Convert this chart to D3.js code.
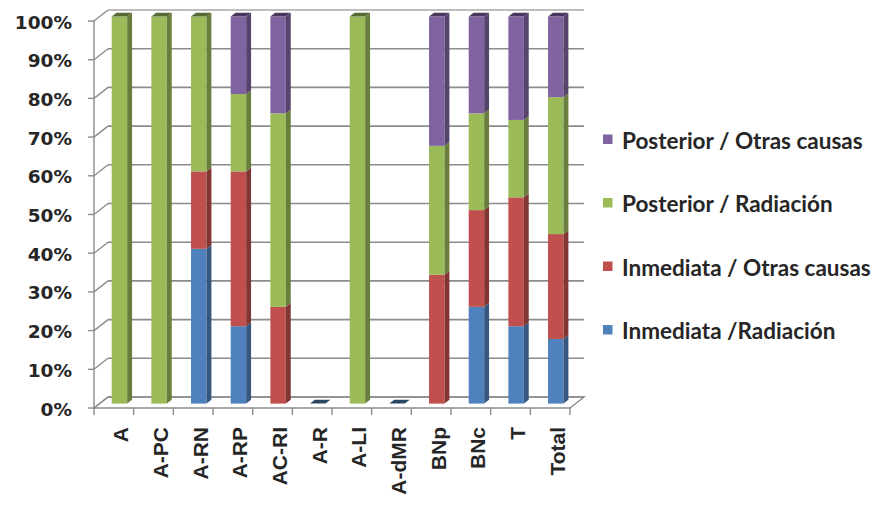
<!DOCTYPE html>
<html>
<head>
<meta charset="utf-8">
<script src="https://cdn.jsdelivr.net/npm/d3@7"></script>
<style>
  html, body { margin: 0; padding: 0; background: #fff; }
  svg { display: block; }
</style>
</head>
<body>
<svg id="chart" width="876" height="506"></svg>
<script>
// Categories and the four stacked series (percent of each category)
const categories = ["A", "A-PC", "A-RN", "A-RP", "AC-RI", "A-R", "A-LI", "A-dMR", "BNp", "BNc", "T", "Total"];
const inmediataRadiacion = [0, 0, 40, 20, 0, 0, 0, 0, 0, 25, 20, 16.7];
const inmediataOtras     = [0, 0, 20, 40, 25, 0, 0, 0, 33.3, 25, 33.3, 27.1];
const posteriorRadiacion = [100, 100, 40, 20, 50, 0, 100, 0, 33.3, 25, 20, 35.4];
const posteriorOtras     = [0, 0, 0, 20, 25, 0, 0, 0, 33.4, 25, 26.7, 20.8];
const yTicks = [0, 10, 20, 30, 40, 50, 60, 70, 80, 90, 100];

const seriesNames = ["Inmediata /Radiación", "Inmediata / Otras causas", "Posterior / Radiación", "Posterior / Otras causas"];
const seriesValues = [inmediataRadiacion, inmediataOtras, posteriorRadiacion, posteriorOtras];
const seriesColors = ["#4F81BD", "#C0504D", "#9BBB59", "#8064A2"];

const svg = d3.select("#chart");

// Front plane scales
const x = d3.scaleBand().domain(categories).range([94, 570]).padding(0);
const y = d3.scaleLinear().domain([0, 100]).range([408, 21]);

// Depth offset of the 3D box (back wall relative to front plane)
const DX = 14, DY = -11;
const off = t => [DX * t, DY * t];
const T0 = 0.4, T1 = 0.75;            // depth range occupied by the columns
const barW = x.bandwidth() * 0.39;

const gridColor = "#8c8c8c";

// Back wall gridlines
const back = svg.append("g");
back.selectAll("line.grid").data(yTicks).join("line")
  .attr("x1", x.range()[0] + DX).attr("x2", x.range()[1] + DX)
  .attr("y1", d => y(d) + DY).attr("y2", d => y(d) + DY)
  .attr("stroke", d => d === 100 ? "#a8a8a8" : gridColor)
  .attr("stroke-width", 1.6);

// Left wall diagonals
back.selectAll("line.diag").data(yTicks).join("line")
  .attr("x1", x.range()[0]).attr("x2", x.range()[0] + DX)
  .attr("y1", d => y(d)).attr("y2", d => y(d) + DY)
  .attr("stroke", gridColor).attr("stroke-width", 1.4);

// Floor outline
const x0 = x.range()[0], x1 = x.range()[1];
back.append("path")
  .attr("d", `M${x0},${y(0)}L${x1},${y(0)}L${x1 + DX},${y(0) + DY}L${x0 + DX},${y(0) + DY}Z`)
  .attr("fill", "none").attr("stroke", gridColor).attr("stroke-width", 1.4);

// Stacked columns
const stackData = categories.map((c, i) => {
  let base = 0;
  const segs = seriesValues.map((vals, s) => {
    const seg = { s, y0: base, y1: base + vals[i] };
    base += vals[i];
    return seg;
  });
  return { c, segs, total: base };
});

const bars = svg.append("g");
const [fx, fy] = off(T0);
const [bx, by] = off(T1);
const sdx = bx - fx, sdy = by - fy;

stackData.forEach(d => {
  const left = x(d.c) + x.bandwidth() / 2 - barW / 2 + fx;
  const right = left + barW;
  const g = bars.append("g");
  const nonzero = d.segs.filter(s => s.y1 > s.y0);
  nonzero.forEach(seg => {
    const c = seriesColors[seg.s];
    const yt = y(seg.y1) + fy, yb = y(seg.y0) + fy;
    g.append("rect")
      .attr("x", left).attr("y", yt).attr("width", barW).attr("height", yb - yt)
      .attr("fill", c);
    g.append("path")
      .attr("d", `M${right},${yt}L${right + sdx},${yt + sdy}L${right + sdx},${yb + sdy}L${right},${yb}Z`)
      .attr("fill", d3.color(c).darker(1.1));
  });
  // Top face of the column (flat cap for empty columns)
  const ytop = y(d.total) + fy;
  const topColor = nonzero.length
    ? d3.color(seriesColors[nonzero[nonzero.length - 1].s]).darker(1.6)
    : d3.color(seriesColors[0]).darker(1.8);
  g.append("path")
    .attr("d", `M${left},${ytop}L${right},${ytop}L${right + sdx},${ytop + sdy}L${left + sdx},${ytop + sdy}Z`)
    .attr("fill", topColor);
});

// Front value axis
const axisG = svg.append("g");
axisG.append("line")
  .attr("x1", x0).attr("x2", x0).attr("y1", y(100)).attr("y2", y(0))
  .attr("stroke", gridColor).attr("stroke-width", 1.4);
axisG.selectAll("line.tick").data(yTicks).join("line")
  .attr("x1", x0 - 6).attr("x2", x0)
  .attr("y1", d => y(d)).attr("y2", d => y(d))
  .attr("stroke", gridColor).attr("stroke-width", 1.4);
axisG.selectAll("text").data(yTicks).join("text")
  .attr("x", 72).attr("y", d => y(d) + 1)
  .attr("text-anchor", "end").attr("dominant-baseline", "central")
  .attr("font-family", "DejaVu Sans").attr("font-weight", "bold").attr("font-size", 18.5)
  .attr("fill", "#262626")
  .text(d => d + "%");

// Category axis ticks and rotated labels
const catTicks = d3.range(categories.length + 1).map(i => x0 + i * x.bandwidth());
axisG.selectAll("line.ctick").data(catTicks).join("line")
  .attr("x1", d => d).attr("x2", d => d)
  .attr("y1", y(0)).attr("y2", y(0) + 7)
  .attr("stroke", gridColor).attr("stroke-width", 1.4);
axisG.selectAll("text.cat").data(categories).join("text")
  .attr("class", "cat")
  .attr("transform", d => `translate(${x(d) + x.bandwidth() / 2 + 7},427) rotate(-90)`)
  .attr("text-anchor", "end").attr("dominant-baseline", "central")
  .attr("font-family", "Liberation Sans").attr("font-weight", "bold").attr("font-size", 21)
  .attr("fill", "#262626")
  .text(d => d);

// Legend (top series first)
const legendRows = [3, 2, 1, 0];
const legend = svg.append("g");
legendRows.forEach((s, i) => {
  const cy = 139 + i * 63.5;
  legend.append("rect")
    .attr("x", 603).attr("y", cy - 4.5).attr("width", 9.5).attr("height", 9.5)
    .attr("fill", seriesColors[s]);
  legend.append("text")
    .attr("x", 622).attr("y", cy + 1)
    .attr("dominant-baseline", "central")
    .attr("font-family", "Lato").attr("font-weight", "bold").attr("font-size", 22.5)
    .attr("fill", "#262626")
    .text(seriesNames[s]);
});
</script>
</body>
</html>
